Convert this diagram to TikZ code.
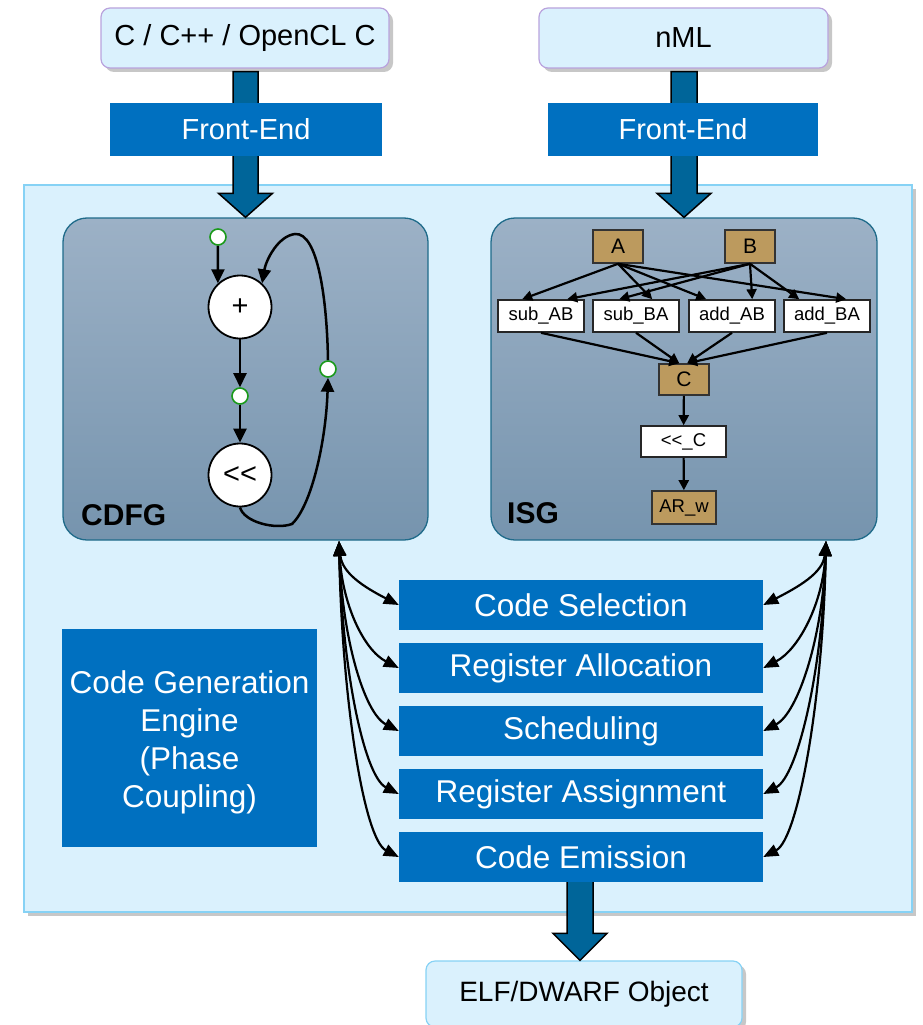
\documentclass[tikz,border=0pt]{standalone}
\usepackage{fontspec}
\setmainfont{Liberation Sans}
\usetikzlibrary{shadows,arrows.meta,calc}
\definecolor{panelbg}{HTML}{DAF1FD}
\definecolor{panelln}{HTML}{86D2F5}
\definecolor{srcln}{HTML}{B9A3DD}
\definecolor{febl}{HTML}{0070C0}
\definecolor{fatbl}{HTML}{006599}
\definecolor{gtop}{HTML}{9CB1C6}
\definecolor{gbot}{HTML}{7694AE}
\definecolor{gln}{HTML}{1F6B8A}
\definecolor{tan}{HTML}{BC9A5E}
\definecolor{grn}{HTML}{1A9A1A}
\newcommand\pxfont[1]{\fontsize{#1}{#1}\selectfont}
\begin{document}
\begin{tikzpicture}[x=1pt,y=1pt,
  shad/.style={drop shadow={shadow xshift=4pt,shadow yshift=-4pt,fill=black,opacity=0.22}},
  panel/.style={draw=panelln,line width=1.2pt,fill=panelbg,inner sep=0pt,shad},
  srcbox/.style={draw=srcln,line width=1.2pt,fill=panelbg,rounded corners=9pt,inner sep=0pt,
    minimum height=60pt,font=\pxfont{29},shad},
  febox/.style={fill=febl,text=white,inner sep=0pt,minimum height=53pt,font=\pxfont{29}},
  phase/.style={fill=febl,text=white,inner sep=0pt,minimum width=364pt,minimum height=50pt,font=\pxfont{31.5}},
  gbox/.style={draw=gln,line width=1.3pt,top color=gtop,bottom color=gbot,rounded corners=24pt,
    inner sep=0pt,minimum height=322pt},
  glabel/.style={font=\bfseries\pxfont{30},inner sep=0pt,anchor=base west},
  fatarr/.style={draw=black,line width=1.5pt,fill=fatbl,line join=miter},
  port/.style={circle,draw=grn,fill=white,line width=1.6pt,minimum size=16pt,inner sep=0pt},
  op/.style={circle,draw=black,fill=white,line width=1.8pt,minimum size=63pt,inner sep=0pt,font=\pxfont{29}},
  carr/.style={line width=2.5pt,-{Triangle[length=14pt,width=13pt]}},
  tanbox/.style={draw=black!80,line width=1.6pt,fill=tan,inner sep=0pt,minimum width=50pt,font=\pxfont{21}},
  wbox/.style={draw=black!85,line width=1.6pt,fill=white,inner sep=0pt,minimum width=86pt,minimum height=32pt,font=\pxfont{18.5}},
  iarr/.style={line width=2.2pt,-{Triangle[length=10pt,width=10pt]}},
  hubarr/.style={line width=2.2pt,{Triangle[length=15pt,width=12pt]}-{Triangle[length=15pt,width=12pt]}}
]
\useasboundingbox (0,0) rectangle (923,-1025);

% background panel
\node[panel,minimum width=888pt,minimum height=727pt] (panel) at (468,-548.5) {};

% source boxes and front-ends
\node[srcbox,minimum width=288pt] (cbox) at (245,-38) {C / C++ / OpenCL C};
\node[srcbox,minimum width=289pt] (nml) at (683.5,-38) {nML};

\node[gbox,minimum width=365pt] (cdfg) at (245.5,-379) {};
\node[gbox,minimum width=386pt] (isg) at (684,-379) {};

% fat arrows from sources to graphs
\draw[fatarr] let \p1=(cbox.south), \p2=(cdfg.north) in
  (\x2-12.5pt,\y1-3pt) -- (\x2+12.5pt,\y1-3pt) -- (\x2+12.5pt,\y2+24pt) -- (\x2+27pt,\y2+24pt)
  -- (\x2,\y2) -- (\x2-27pt,\y2+24pt) -- (\x2-12.5pt,\y2+24pt) -- cycle;
\draw[fatarr] let \p1=(nml.south), \p2=(isg.north) in
  (\x2-13pt,\y1-3pt) -- (\x2+13pt,\y1-3pt) -- (\x2+13pt,\y2+24pt) -- (\x2+27pt,\y2+24pt)
  -- (\x2,\y2) -- (\x2-27pt,\y2+24pt) -- (\x2-13pt,\y2+24pt) -- cycle;

\node[febox,minimum width=272pt] (feL) at (246,-129.5) {Front-End};
\node[febox,minimum width=270pt] (feR) at (683,-129.5) {Front-End};

% CDFG contents
\node[glabel] (cdfglab) at (81,-525) {CDFG};
\node[port] (s1) at (218,-237) {};
\node[op] (plus) at (240,-307) {+};
\node[port] (s2) at (240,-396) {};
\node[op] (shl) at (240,-475) {<\kern0pt<};
\node[port] (s3) at (328,-369) {};
\draw[carr] (s1) -- (plus.133);
\draw[carr] (plus) -- (s2);
\draw[carr] (s2) -- (shl);
\draw[carr] (shl.south) .. controls (244,-522) and (275,-530) .. (292,-524)
  .. controls (312,-505) and (326,-440) .. (s3.south);
\draw[carr] (s3.north) .. controls (327,-300) and (318,-232) .. (295,-234)
  .. controls (278,-236) and (266,-260) .. (plus.47);

% ISG contents
\node[glabel] (isglab) at (507,-523) {ISG};
\node[tanbox,minimum height=33pt] (A) at (618,-246.5) {A};
\node[tanbox,minimum height=33pt] (B) at (750,-246.5) {B};
\node[wbox] (subAB) at (541,-316) {sub\_AB};
\node[wbox] (subBA) at (636,-316) {sub\_BA};
\node[wbox] (addAB) at (732,-316) {add\_AB};
\node[wbox] (addBA) at (827,-316) {add\_BA};
\node[tanbox,minimum height=31pt] (C) at (684,-379.5) {C};
\node[wbox,minimum width=85pt,minimum height=31pt] (shlC) at (683.5,-441.5) {<\kern0pt<\_C};
\node[tanbox,minimum width=64pt,minimum height=33pt,font=\pxfont{18.5}] (ARw) at (684,-507.5) {AR\_w};

\draw[iarr] (A.south) -- ([xshift=25pt]subAB.north west);
\draw[iarr] (B.south) -- ([xshift=70pt]subAB.north west);
\draw[iarr] (B.south) -- ([xshift=27pt]subBA.north west);
\draw[iarr] (A.south) -- ([xshift=60pt]subBA.north west);
\draw[iarr] (A.south) -- ([xshift=18pt]addAB.north west);
\draw[iarr] (B.south) -- ([xshift=64pt]addAB.north west);
\draw[iarr] (B.south) -- ([xshift=16pt]addBA.north west);
\draw[iarr] (A.south) -- ([xshift=63pt]addBA.north west);
\draw[iarr] (subAB.south) -- ([xshift=21pt]C.north west);
\draw[iarr] (subBA.south) -- ([xshift=21pt]C.north west);
\draw[iarr] (addAB.south) -- ([xshift=29pt]C.north west);
\draw[iarr] (addBA.south) -- ([xshift=29pt]C.north west);
\draw[iarr] (C) -- (shlC);
\draw[iarr] (shlC) -- (ARw);

% code generation engine
\node[fill=febl,inner sep=0pt,minimum width=255pt,minimum height=218pt] (cge) at (189.5,-738) {};
\node[text=white,inner sep=0pt,align=center,font=\fontsize{31.5}{38}\selectfont] (cgetext) at (189.5,-742)
  {Code Generation\\Engine\\(Phase\\Coupling)};

% bottom fat arrow
\node[srcbox,draw=panelln,minimum width=316pt,minimum height=66pt,font=\pxfont{28}] (elf) at (584,-994) {ELF/DWARF Object};
\draw[fatarr] let \p2=(elf.north) in
  (580pt-13pt,-880pt) -- (580pt+13pt,-880pt) -- (580pt+13pt,\y2+27pt) -- (580pt+27pt,\y2+27pt)
  -- (580pt,\y2) -- (580pt-27pt,\y2+27pt) -- (580pt-13pt,\y2+27pt) -- cycle;

% phases
\node[phase] (cs) at (581,-605) {Code Selection};
\node[phase] (ra) at (581,-668) {Register Allocation};
\node[phase] (sch) at (581,-731) {Scheduling};
\node[phase] (ras) at (581,-794) {Register Assignment};
\node[phase] (ce) at (581,-857) {Code Emission};

\coordinate (hubL) at (339,-541);
\coordinate (hubR) at (826,-541);
\foreach \n/\d in {cs/32,ra/63,sch/95,ras/126,ce/158}{
  \draw[hubarr] (hubL) .. controls +(3,-\d) and +(-35,18) .. (\n.west);
  \draw[hubarr] (hubR) .. controls +(-3,-\d) and +(35,18) .. (\n.east);
}
\end{tikzpicture}
\end{document}
